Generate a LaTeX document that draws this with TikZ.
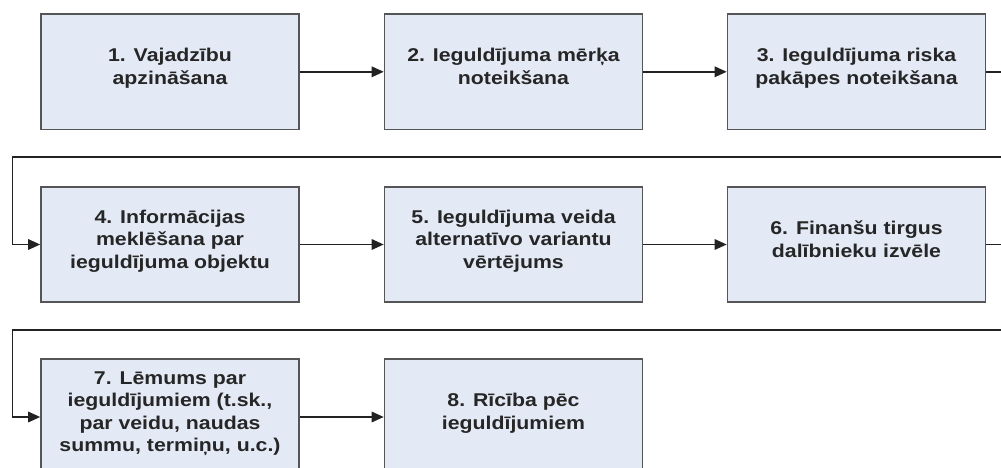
\documentclass[tikz,border=0pt]{standalone}
\usepackage{fontspec}
\setmainfont[FakeStretch=1.15]{Liberation Sans}
\usetikzlibrary{arrows.meta}
\definecolor{boxfill}{HTML}{E4EAF5}
\definecolor{boxline}{HTML}{555555}
\definecolor{conn}{HTML}{222222}
\begin{document}
\begin{tikzpicture}[x=1pt,y=-1pt,
  stepbox/.style={draw=boxline,line width=1.6pt,fill=boxfill,minimum width=258pt,minimum height=115.5pt,
    align=center,font=\bfseries\fontsize{18.5}{22.5}\selectfont,text=black!85,inner sep=0pt,text depth=11pt},
  conn/.style={draw=conn,line width=1.6pt,-{Triangle[length=12pt,width=10.5pt]}}]
\clip (0,0) rectangle (1001,468);
\useasboundingbox (0,0) rectangle (1001,468);
\node[stepbox] (b1) at (170,71.8) {1. Vajadzību\\apzināšana};
\node[stepbox] (b2) at (513.5,71.8) {2. Ieguldījuma mērķa\\noteikšana};
\node[stepbox] (b3) at (856.5,71.8) {3. Ieguldījuma riska\\pakāpes noteikšana};
\node[stepbox] (b4) at (170,244.5) {4. Informācijas\\meklēšana par\\ieguldījuma objektu};
\node[stepbox] (b5) at (513.5,244.5) {5. Ieguldījuma veida\\alternatīvo variantu\\vērtējums};
\node[stepbox] (b6) at (856.5,244.5) {6. Finanšu tirgus\\dalībnieku izvēle};
\node[stepbox] (b7) at (170,417) {7. Lēmums par\\ieguldījumiem (t.sk.,\\par veidu, naudas\\summu, termiņu, u.c.)};
\node[stepbox] (b8) at (513.5,417) {8. Rīcība pēc\\ieguldījumiem};
\coordinate (r1) at (1010,157);
\coordinate (l1) at (12.3,157);
\coordinate (r2) at (1010,330);
\coordinate (l2) at (12.3,330);
\draw[conn] (b1) -- (b2);
\draw[conn] (b2) -- (b3);
\draw[conn] (b3.east) -| (r1) -- (l1) |- (b4.west);
\draw[conn] (b4) -- (b5);
\draw[conn] (b5) -- (b6);
\draw[conn] (b6.east) -| (r2) -- (l2) |- (b7.west);
\draw[conn] (b7) -- (b8);
\end{tikzpicture}
\end{document}
